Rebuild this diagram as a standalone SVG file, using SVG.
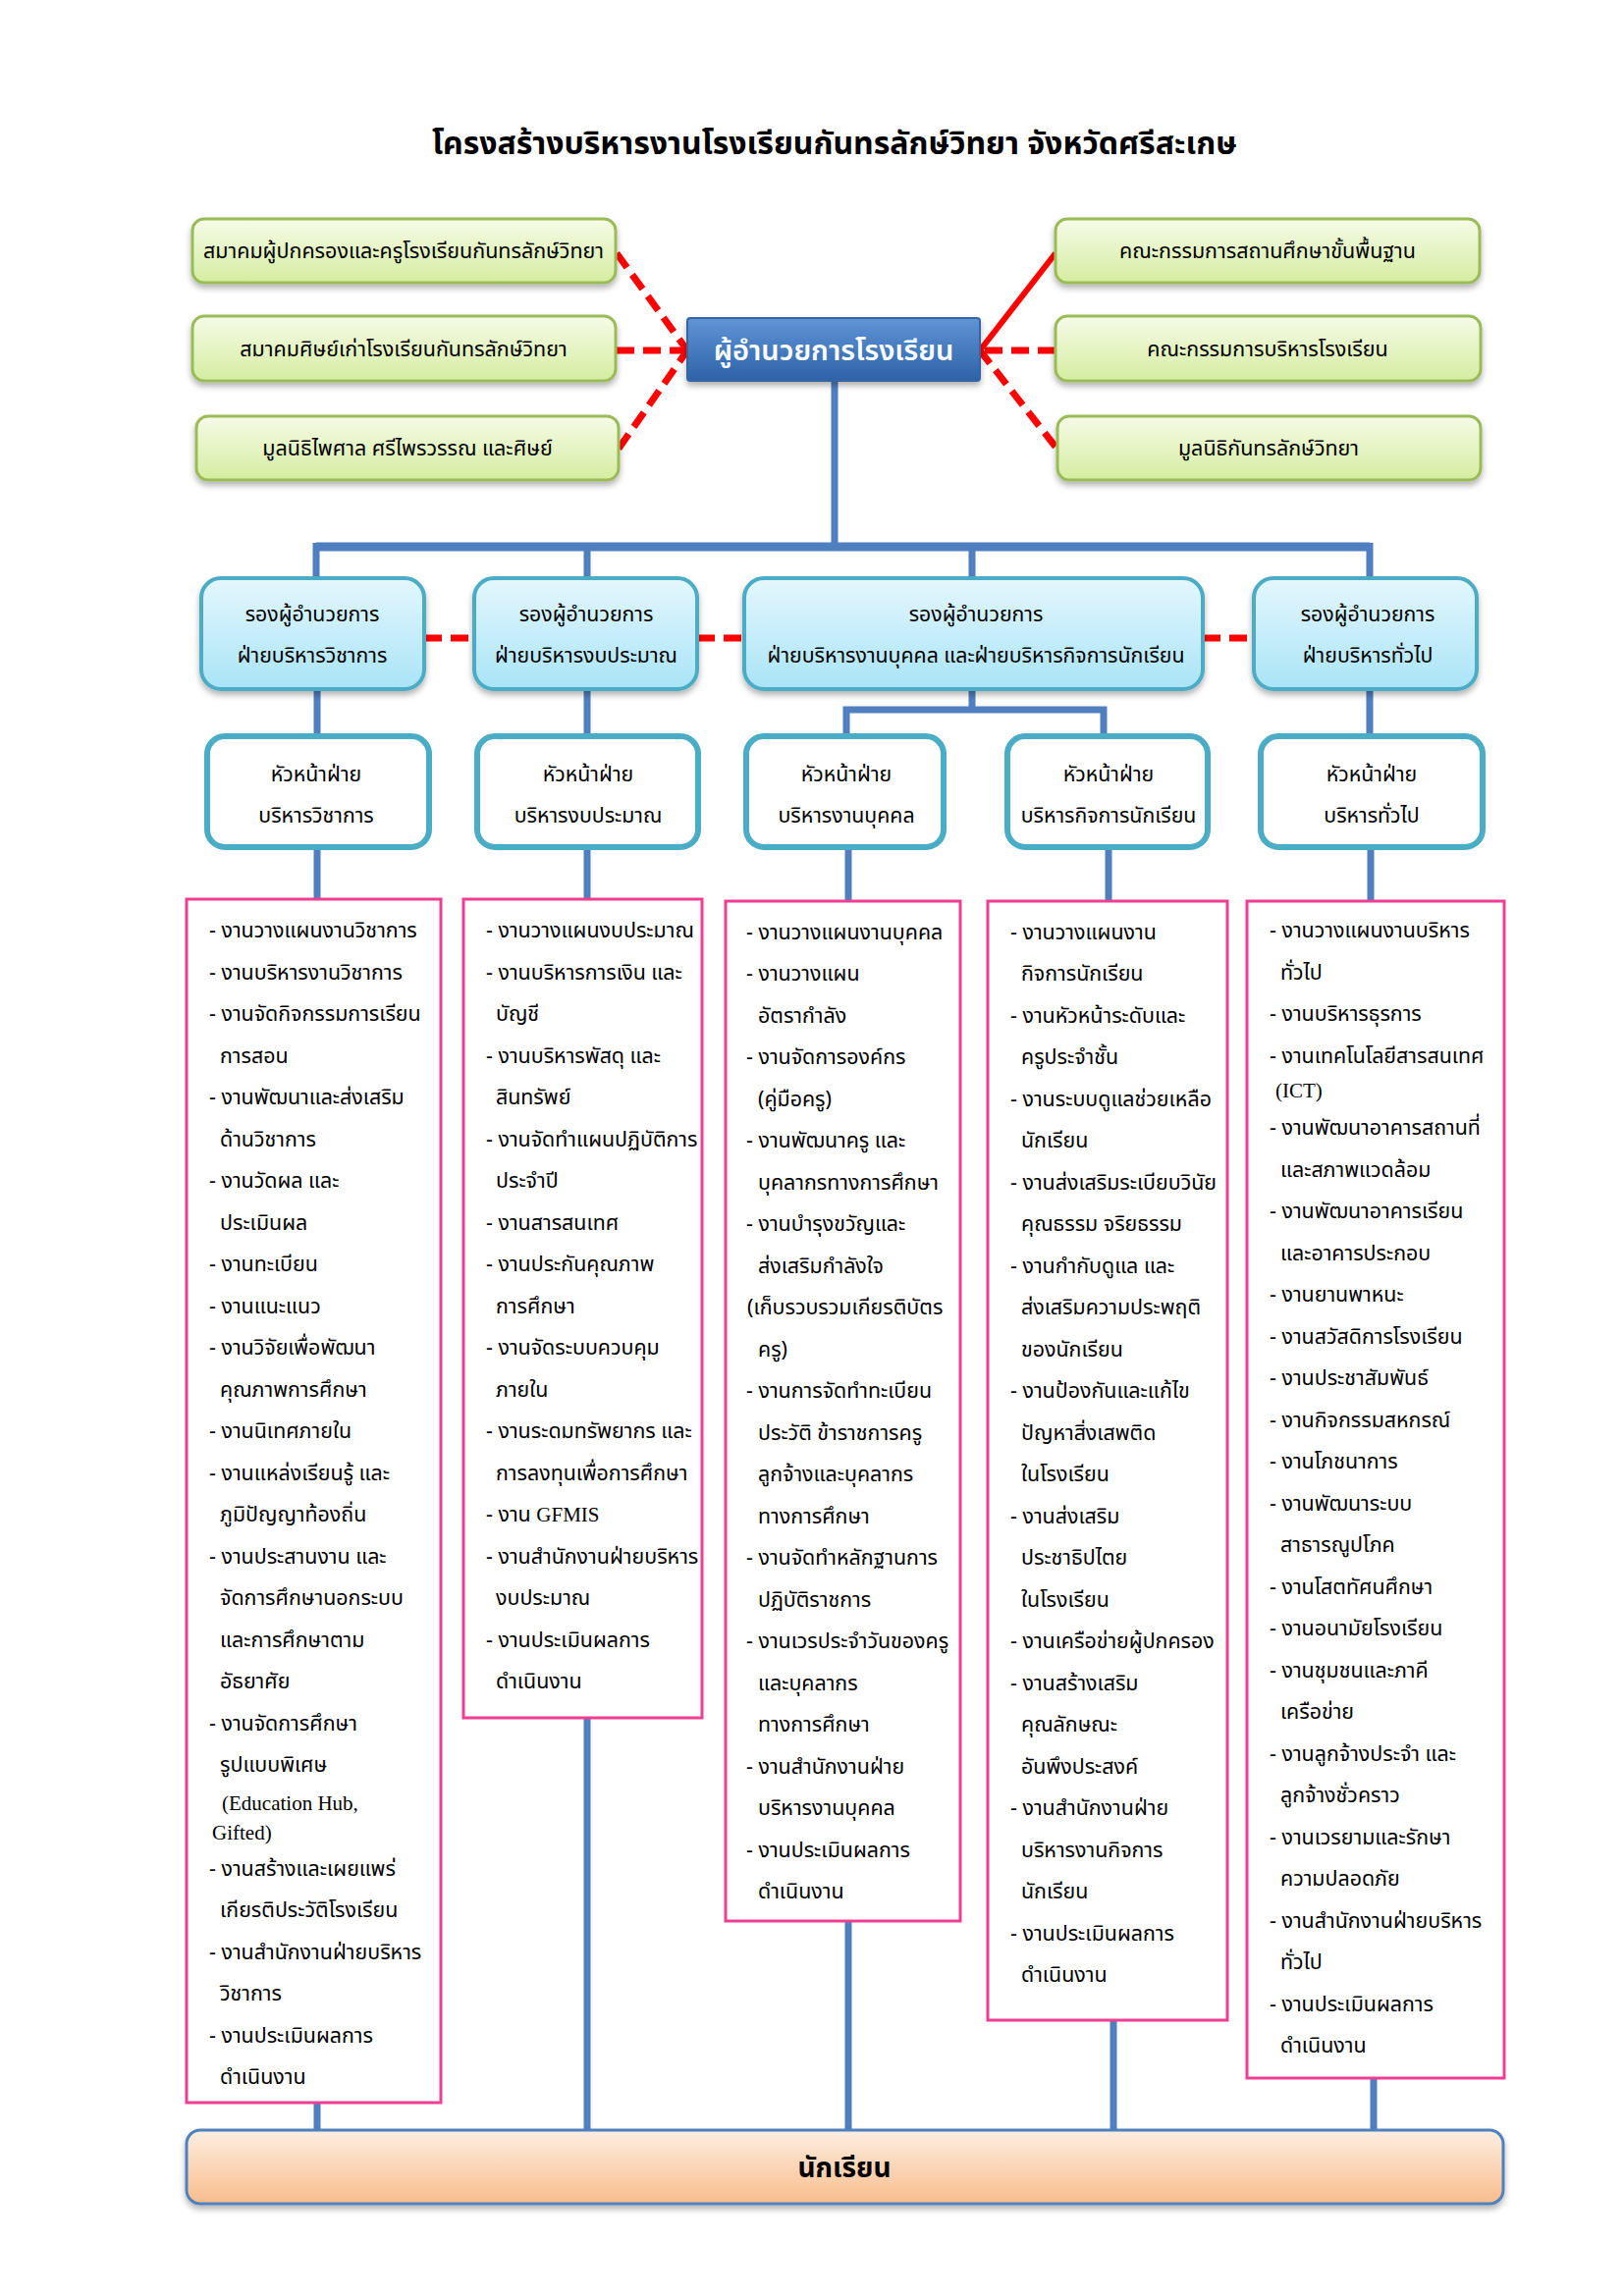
<svg xmlns="http://www.w3.org/2000/svg" width="1654" height="2339" viewBox="0 0 1654 2339">
<defs>
<linearGradient id="gGreen" x1="0" y1="0" x2="0" y2="1"><stop offset="0" stop-color="#f6fbe8"/><stop offset="1" stop-color="#d4eda0"/></linearGradient>
<linearGradient id="gCyan" x1="0" y1="0" x2="0" y2="1"><stop offset="0" stop-color="#e4f7fd"/><stop offset="1" stop-color="#a9e4f7"/></linearGradient>
<linearGradient id="gBlue" x1="0" y1="0" x2="0" y2="1"><stop offset="0" stop-color="#5f95d6"/><stop offset="1" stop-color="#2d62a8"/></linearGradient>
<linearGradient id="gOrange" x1="0" y1="0" x2="0" y2="1"><stop offset="0" stop-color="#fdeee2"/><stop offset="1" stop-color="#f9bd8c"/></linearGradient>
<filter id="sh" x="-10%" y="-20%" width="120%" height="150%"><feDropShadow dx="0" dy="4" stdDeviation="3" flood-color="#000" flood-opacity="0.3"/></filter>
</defs>
<style>
.t{font-family:"Noto Sans Thai","Noto Sans","DejaVu Sans",sans-serif;fill:#000}
.ttl{font-size:32px;font-weight:bold;text-anchor:middle}
.gb{fill:url(#gGreen);stroke:#9bbb59;stroke-width:3}
.gt{font-size:21.5px;text-anchor:middle}
.db{fill:url(#gCyan);stroke:#4bacc6;stroke-width:4}
.hb{fill:#fff;stroke:#4bacc6;stroke-width:6}
.ct{font-size:21.3px;text-anchor:middle}
.lb{fill:#fff;stroke:#ee3f93;stroke-width:3}
.li{font-size:21.4px}
.lat{font-family:"Liberation Serif",serif;font-size:21px}
.blue{stroke:#4f7fbf;stroke-width:7;fill:none}
.red{stroke:#ff0000;stroke-width:7;fill:none;stroke-dasharray:18 9}
.reds{stroke:#ff0000;stroke-width:6;fill:none}
</style>

<text class="t ttl" x="850" y="157">โครงสร้างบริหารงานโรงเรียนกันทรลักษ์วิทยา จังหวัดศรีสะเกษ</text>

<g id="connectors">
<path class="red" d="M628 258 L700 357"/>
<path class="red" d="M628 357 L700 357"/>
<path class="red" d="M630 457 L700 357"/>
<path class="reds" d="M1075 258 L998 357"/>
<path class="red" d="M1075 357 L998 357"/>
<path class="red" d="M1075 455 L998 357"/>
<path class="blue" d="M850 388 V557"/>
<path class="blue" d="M322 557 H1395" style="stroke-width:9"/>
<path class="blue" d="M322 553 V589 M598 557 V589 M990 557 V589 M1395 553 V589"/>
<path class="red" d="M432 650 H483 M710 650 H758 M1225 650 H1277"/>
<path class="blue" d="M323 702 V747 M598 702 V747 M1395 702 V747"/>
<path class="blue" d="M990 702 V723 M862 747 V723 H1124 V747"/>
<path class="blue" d="M323 863 V916 M598 863 V916 M864 863 V918 M1129 863 V918 M1396 863 V918"/>
<path class="blue" d="M323 2142 V2170 M598 1750 V2170 M864 1957 V2170 M1134 2058 V2170 M1399 2117 V2170"/>
</g>

<g id="n-parents"><rect class="gb" x="196" y="223" width="431" height="65" rx="12" filter="url(#sh)"/><text class="t gt" x="411" y="263">สมาคมผู้ปกครองและครูโรงเรียนกันทรลักษ์วิทยา</text></g>
<g id="n-alumni"><rect class="gb" x="196" y="322" width="431" height="66" rx="12" filter="url(#sh)"/><text class="t gt" x="411" y="363">สมาคมศิษย์เก่าโรงเรียนกันทรลักษ์วิทยา</text></g>
<g id="n-foundation1"><rect class="gb" x="200" y="424" width="430" height="65" rx="12" filter="url(#sh)"/><text class="t gt" x="415" y="464">มูลนิธิไพศาล ศรีไพรวรรณ และศิษย์</text></g>
<g id="n-basic"><rect class="gb" x="1075" y="223" width="432" height="65" rx="12" filter="url(#sh)"/><text class="t gt" x="1291" y="263">คณะกรรมการสถานศึกษาขั้นพื้นฐาน</text></g>
<g id="n-board"><rect class="gb" x="1075" y="322" width="433" height="66" rx="12" filter="url(#sh)"/><text class="t gt" x="1291" y="363">คณะกรรมการบริหารโรงเรียน</text></g>
<g id="n-foundation2"><rect class="gb" x="1077" y="424" width="431" height="65" rx="12" filter="url(#sh)"/><text class="t gt" x="1292" y="464">มูลนิธิกันทรลักษ์วิทยา</text></g>

<g id="n-director"><rect x="700" y="324" width="298" height="64" rx="3" fill="url(#gBlue)" stroke="#3565a3" stroke-width="2" filter="url(#sh)"/><text class="t" x="849" y="367" style="fill:#fff;font-size:29px;font-weight:600;text-anchor:middle">ผู้อำนวยการโรงเรียน</text></g>

<g id="n-dep1"><rect class="db" x="205" y="589" width="227" height="113" rx="20" filter="url(#sh)"/><text class="t ct" x="318" y="633">รองผู้อำนวยการ</text><text class="t ct" x="318" y="675">ฝ่ายบริหารวิชาการ</text></g>
<g id="n-dep2"><rect class="db" x="483" y="589" width="227" height="113" rx="20" filter="url(#sh)"/><text class="t ct" x="597" y="633">รองผู้อำนวยการ</text><text class="t ct" x="597" y="675">ฝ่ายบริหารงบประมาณ</text></g>
<g id="n-dep3"><rect class="db" x="758" y="589" width="467" height="113" rx="20" filter="url(#sh)"/><text class="t ct" x="994" y="633">รองผู้อำนวยการ</text><text class="t ct" x="994" y="675">ฝ่ายบริหารงานบุคคล และฝ่ายบริหารกิจการนักเรียน</text></g>
<g id="n-dep4"><rect class="db" x="1277" y="589" width="227" height="113" rx="20" filter="url(#sh)"/><text class="t ct" x="1393" y="633">รองผู้อำนวยการ</text><text class="t ct" x="1393" y="675">ฝ่ายบริหารทั่วไป</text></g>

<g id="n-head1"><rect class="hb" x="211" y="750" width="226" height="113" rx="18"/><text class="t ct" x="322" y="796">หัวหน้าฝ่าย</text><text class="t ct" x="322" y="838">บริหารวิชาการ</text></g>
<g id="n-head2"><rect class="hb" x="486" y="750" width="225" height="113" rx="18"/><text class="t ct" x="599" y="796">หัวหน้าฝ่าย</text><text class="t ct" x="599" y="838">บริหารงบประมาณ</text></g>
<g id="n-head3"><rect class="hb" x="760" y="750" width="201" height="113" rx="18"/><text class="t ct" x="862" y="796">หัวหน้าฝ่าย</text><text class="t ct" x="862" y="838">บริหารงานบุคคล</text></g>
<g id="n-head4"><rect class="hb" x="1026" y="750" width="204" height="113" rx="18"/><text class="t ct" x="1129" y="796">หัวหน้าฝ่าย</text><text class="t ct" x="1129" y="838">บริหารกิจการนักเรียน</text></g>
<g id="n-head5"><rect class="hb" x="1284" y="750" width="226" height="113" rx="18"/><text class="t ct" x="1397" y="796">หัวหน้าฝ่าย</text><text class="t ct" x="1397" y="838">บริหารทั่วไป</text></g>

<g id="n-list1"><rect class="lb" x="190" y="916" width="259" height="1226"/>
<text class="t li" x="213" y="955">- งานวางแผนงานวิชาการ</text>
<text class="t li" x="213" y="997.5">- งานบริหารงานวิชาการ</text>
<text class="t li" x="213" y="1040">- งานจัดกิจกรรมการเรียน</text>
<text class="t li" x="224" y="1082.5">การสอน</text>
<text class="t li" x="213" y="1125">- งานพัฒนาและส่งเสริม</text>
<text class="t li" x="224" y="1167.5">ด้านวิชาการ</text>
<text class="t li" x="213" y="1210">- งานวัดผล และ</text>
<text class="t li" x="224" y="1252.5">ประเมินผล</text>
<text class="t li" x="213" y="1295">- งานทะเบียน</text>
<text class="t li" x="213" y="1337.5">- งานแนะแนว</text>
<text class="t li" x="213" y="1380">- งานวิจัยเพื่อพัฒนา</text>
<text class="t li" x="224" y="1422.5">คุณภาพการศึกษา</text>
<text class="t li" x="213" y="1465">- งานนิเทศภายใน</text>
<text class="t li" x="213" y="1507.5">- งานแหล่งเรียนรู้ และ</text>
<text class="t li" x="224" y="1550">ภูมิปัญญาท้องถิ่น</text>
<text class="t li" x="213" y="1592.5">- งานประสานงาน และ</text>
<text class="t li" x="224" y="1635">จัดการศึกษานอกระบบ</text>
<text class="t li" x="224" y="1677.5">และการศึกษาตาม</text>
<text class="t li" x="224" y="1720">อัธยาศัย</text>
<text class="t li" x="213" y="1762.5">- งานจัดการศึกษา</text>
<text class="t li" x="224" y="1805">รูปแบบพิเศษ</text>
<text class="lat" x="226" y="1844">(Education Hub,</text>
<text class="lat" x="216" y="1874">Gifted)</text>
<text class="t li" x="213" y="1910.5">- งานสร้างและเผยแพร่</text>
<text class="t li" x="224" y="1953">เกียรติประวัติโรงเรียน</text>
<text class="t li" x="213" y="1995.5">- งานสำนักงานฝ่ายบริหาร</text>
<text class="t li" x="224" y="2038">วิชาการ</text>
<text class="t li" x="213" y="2080.5">- งานประเมินผลการ</text>
<text class="t li" x="224" y="2123">ดำเนินงาน</text>
</g>

<g id="n-list2"><rect class="lb" x="472" y="916" width="243" height="834"/>
<text class="t li" x="495" y="955">- งานวางแผนงบประมาณ</text>
<text class="t li" x="495" y="997.5">- งานบริหารการเงิน และ</text>
<text class="t li" x="505" y="1040">บัญชี</text>
<text class="t li" x="495" y="1082.5">- งานบริหารพัสดุ และ</text>
<text class="t li" x="505" y="1125">สินทรัพย์</text>
<text class="t li" x="495" y="1167.5">- งานจัดทำแผนปฏิบัติการ</text>
<text class="t li" x="505" y="1210">ประจำปี</text>
<text class="t li" x="495" y="1252.5">- งานสารสนเทศ</text>
<text class="t li" x="495" y="1295">- งานประกันคุณภาพ</text>
<text class="t li" x="505" y="1337.5">การศึกษา</text>
<text class="t li" x="495" y="1380">- งานจัดระบบควบคุม</text>
<text class="t li" x="505" y="1422.5">ภายใน</text>
<text class="t li" x="495" y="1465">- งานระดมทรัพยากร และ</text>
<text class="t li" x="505" y="1507.5">การลงทุนเพื่อการศึกษา</text>
<text class="t li" x="495" y="1550">- งาน <tspan style="font-family:'Liberation Serif',serif;font-size:21px">GFMIS</tspan></text>
<text class="t li" x="495" y="1592.5">- งานสำนักงานฝ่ายบริหาร</text>
<text class="t li" x="505" y="1635">งบประมาณ</text>
<text class="t li" x="495" y="1677.5">- งานประเมินผลการ</text>
<text class="t li" x="505" y="1720">ดำเนินงาน</text>
</g>

<g id="n-list3"><rect class="lb" x="739" y="918" width="239" height="1039"/>
<text class="t li" x="760" y="956.5">- งานวางแผนงานบุคคล</text>
<text class="t li" x="760" y="999">- งานวางแผน</text>
<text class="t li" x="772" y="1041.5">อัตรากำลัง</text>
<text class="t li" x="760" y="1084">- งานจัดการองค์กร</text>
<text class="t li" x="772" y="1126.5">(คู่มือครู)</text>
<text class="t li" x="760" y="1169">- งานพัฒนาครู และ</text>
<text class="t li" x="772" y="1211.5">บุคลากรทางการศึกษา</text>
<text class="t li" x="760" y="1254">- งานบำรุงขวัญและ</text>
<text class="t li" x="772" y="1296.5">ส่งเสริมกำลังใจ</text>
<text class="t li" x="761" y="1339">(เก็บรวบรวมเกียรติบัตร</text>
<text class="t li" x="772" y="1381.5">ครู)</text>
<text class="t li" x="760" y="1424">- งานการจัดทำทะเบียน</text>
<text class="t li" x="772" y="1466.5">ประวัติ ข้าราชการครู</text>
<text class="t li" x="772" y="1509">ลูกจ้างและบุคลากร</text>
<text class="t li" x="772" y="1551.5">ทางการศึกษา</text>
<text class="t li" x="760" y="1594">- งานจัดทำหลักฐานการ</text>
<text class="t li" x="772" y="1636.5">ปฏิบัติราชการ</text>
<text class="t li" x="760" y="1679">- งานเวรประจำวันของครู</text>
<text class="t li" x="772" y="1721.5">และบุคลากร</text>
<text class="t li" x="772" y="1764">ทางการศึกษา</text>
<text class="t li" x="760" y="1806.5">- งานสำนักงานฝ่าย</text>
<text class="t li" x="772" y="1849">บริหารงานบุคคล</text>
<text class="t li" x="760" y="1891.5">- งานประเมินผลการ</text>
<text class="t li" x="772" y="1934">ดำเนินงาน</text>
</g>

<g id="n-list4"><rect class="lb" x="1006" y="918" width="244" height="1140"/>
<text class="t li" x="1029" y="956.5">- งานวางแผนงาน</text>
<text class="t li" x="1040" y="999">กิจการนักเรียน</text>
<text class="t li" x="1029" y="1041.5">- งานหัวหน้าระดับและ</text>
<text class="t li" x="1040" y="1084">ครูประจำชั้น</text>
<text class="t li" x="1029" y="1126.5">- งานระบบดูแลช่วยเหลือ</text>
<text class="t li" x="1040" y="1169">นักเรียน</text>
<text class="t li" x="1029" y="1211.5">- งานส่งเสริมระเบียบวินัย</text>
<text class="t li" x="1040" y="1254">คุณธรรม จริยธรรม</text>
<text class="t li" x="1029" y="1296.5">- งานกำกับดูแล และ</text>
<text class="t li" x="1040" y="1339">ส่งเสริมความประพฤติ</text>
<text class="t li" x="1040" y="1381.5">ของนักเรียน</text>
<text class="t li" x="1029" y="1424">- งานป้องกันและแก้ไข</text>
<text class="t li" x="1040" y="1466.5">ปัญหาสิ่งเสพติด</text>
<text class="t li" x="1040" y="1509">ในโรงเรียน</text>
<text class="t li" x="1029" y="1551.5">- งานส่งเสริม</text>
<text class="t li" x="1040" y="1594">ประชาธิปไตย</text>
<text class="t li" x="1040" y="1636.5">ในโรงเรียน</text>
<text class="t li" x="1029" y="1679">- งานเครือข่ายผู้ปกครอง</text>
<text class="t li" x="1029" y="1721.5">- งานสร้างเสริม</text>
<text class="t li" x="1040" y="1764">คุณลักษณะ</text>
<text class="t li" x="1040" y="1806.5">อันพึงประสงค์</text>
<text class="t li" x="1029" y="1849">- งานสำนักงานฝ่าย</text>
<text class="t li" x="1040" y="1891.5">บริหารงานกิจการ</text>
<text class="t li" x="1040" y="1934">นักเรียน</text>
<text class="t li" x="1029" y="1976.5">- งานประเมินผลการ</text>
<text class="t li" x="1040" y="2019">ดำเนินงาน</text>
</g>

<g id="n-list5"><rect class="lb" x="1270" y="918" width="262" height="1199"/>
<text class="t li" x="1293" y="955">- งานวางแผนงานบริหาร</text>
<text class="t li" x="1304" y="997.5">ทั่วไป</text>
<text class="t li" x="1293" y="1040">- งานบริหารธุรการ</text>
<text class="t li" x="1293" y="1082.5">- งานเทคโนโลยีสารสนเทศ</text>
<text class="lat" x="1299" y="1118">(ICT)</text>
<text class="t li" x="1293" y="1156">- งานพัฒนาอาคารสถานที่</text>
<text class="t li" x="1304" y="1198.5">และสภาพแวดล้อม</text>
<text class="t li" x="1293" y="1241">- งานพัฒนาอาคารเรียน</text>
<text class="t li" x="1304" y="1283.5">และอาคารประกอบ</text>
<text class="t li" x="1293" y="1326">- งานยานพาหนะ</text>
<text class="t li" x="1293" y="1368.5">- งานสวัสดิการโรงเรียน</text>
<text class="t li" x="1293" y="1411">- งานประชาสัมพันธ์</text>
<text class="t li" x="1293" y="1453.5">- งานกิจกรรมสหกรณ์</text>
<text class="t li" x="1293" y="1496">- งานโภชนาการ</text>
<text class="t li" x="1293" y="1538.5">- งานพัฒนาระบบ</text>
<text class="t li" x="1304" y="1581">สาธารณูปโภค</text>
<text class="t li" x="1293" y="1623.5">- งานโสตทัศนศึกษา</text>
<text class="t li" x="1293" y="1666">- งานอนามัยโรงเรียน</text>
<text class="t li" x="1293" y="1708.5">- งานชุมชนและภาคี</text>
<text class="t li" x="1304" y="1751">เครือข่าย</text>
<text class="t li" x="1293" y="1793.5">- งานลูกจ้างประจำ และ</text>
<text class="t li" x="1304" y="1836">ลูกจ้างชั่วคราว</text>
<text class="t li" x="1293" y="1878.5">- งานเวรยามและรักษา</text>
<text class="t li" x="1304" y="1921">ความปลอดภัย</text>
<text class="t li" x="1293" y="1963.5">- งานสำนักงานฝ่ายบริหาร</text>
<text class="t li" x="1304" y="2006">ทั่วไป</text>
<text class="t li" x="1293" y="2048.5">- งานประเมินผลการ</text>
<text class="t li" x="1304" y="2091">ดำเนินงาน</text>
</g>

<g id="n-students"><rect x="190" y="2170" width="1341" height="75" rx="14" fill="url(#gOrange)" stroke="#4f81bd" stroke-width="3" filter="url(#sh)"/><text class="t" x="860" y="2218" style="font-size:28px;font-weight:bold;text-anchor:middle">นักเรียน</text></g>
</svg>
